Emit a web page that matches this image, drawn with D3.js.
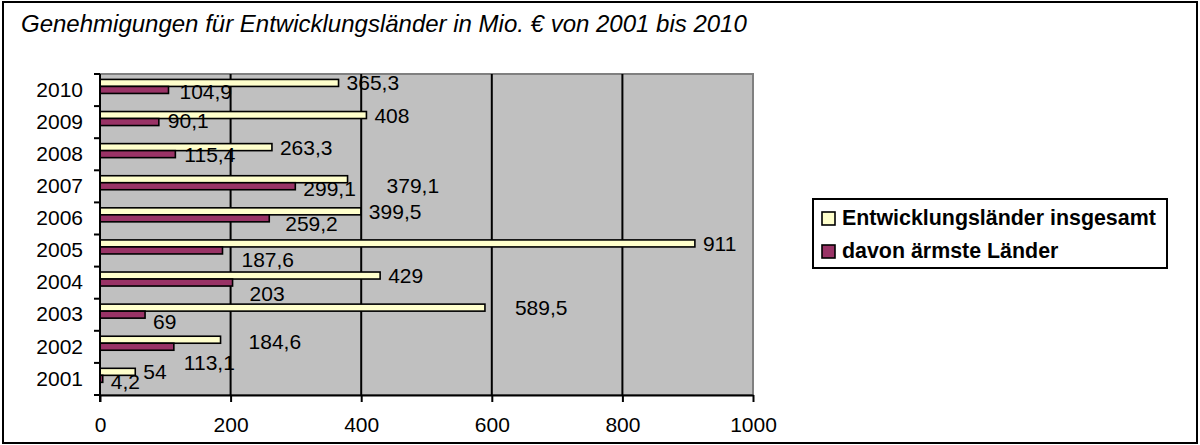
<!DOCTYPE html>
<html>
<head>
<meta charset="utf-8">
<script src="https://cdn.jsdelivr.net/npm/d3@7"></script>
<style>
  body { margin: 0; background: #fff; }
  svg text { font-family: "Liberation Sans", Arial, sans-serif; fill: #000; }
</style>
</head>
<body>
<div id="chart"></div>
<script>
// values
var years = [2001, 2002, 2003, 2004, 2005, 2006, 2007, 2008, 2009, 2010];
var totalValues = [54, 184.6, 589.5, 429, 911, 399.5, 379.1, 263.3, 408, 365.3];
var poorestValues = [4.2, 113.1, 69, 203, 187.6, 259.2, 299.1, 115.4, 90.1, 104.9];
var seriesNames = ["Entwicklungsländer insgesamt", "davon ärmste Länder"];
var xTicks = [0, 200, 400, 600, 800, 1000];
var title = "Genehmigungen für Entwicklungsländer in Mio. € von 2001 bis 2010";

// manual label shifts (like the moved data labels in the original)
var totalNudge = [[0, 0], [20, 2], [22, 0], [0, 0], [0, 0], [0, 0], [31, 6], [0, 0], [0, 0], [0, 0]];
var poorestNudge = [[0, 3], [2, 16], [0, 7], [9, 11], [11, 9], [8, 5], [0, 2], [1, 0], [1, -2], [3, 2]];

var colors = ["#FFFFCC", "#993366"];

var width = 1200, height = 445;
var plot = { left: 100, right: 753, top: 74, bottom: 395 };

var svg = d3
  .select("#chart")
  .append("svg")
  .attr("width", width)
  .attr("height", height);

// outer frame
svg
  .append("rect")
  .attr("x", 3)
  .attr("y", 2)
  .attr("width", 1194)
  .attr("height", 441)
  .attr("fill", "#fff")
  .attr("stroke", "#000")
  .attr("stroke-width", 2);

svg
  .append("text")
  .text(title)
  .attr("x", 21)
  .attr("y", 32)
  .style("font-style", "italic")
  .style("font-size", "24px");

// scales
var xScale = d3.scaleLinear().domain([0, 1000]).range([plot.left, plot.right]);

var yScale = d3
  .scaleBand()
  .domain(years.slice().reverse())
  .range([plot.top, plot.bottom]);

var subScale = d3
  .scaleBand()
  .domain([0, 1])
  .range([0, yScale.bandwidth()])
  .paddingOuter(1.29)
  .align(0.3);

// plot area
svg
  .append("rect")
  .attr("x", plot.left)
  .attr("y", plot.top)
  .attr("width", plot.right - plot.left)
  .attr("height", plot.bottom - plot.top)
  .attr("fill", "#C0C0C0")
  .attr("stroke", "#808080")
  .attr("stroke-width", 2);

// vertical gridlines
svg
  .append("g")
  .selectAll("line")
  .data(xTicks.slice(1, -1))
  .enter()
  .append("line")
  .attr("x1", function(d) { return xScale(d); })
  .attr("x2", function(d) { return xScale(d); })
  .attr("y1", plot.top)
  .attr("y2", plot.bottom)
  .attr("stroke", "#000")
  .attr("stroke-width", 2);

// bars
var rows = years.map(function(y, i) {
  return {
    year: y,
    values: [totalValues[i], poorestValues[i]],
    nudges: [totalNudge[i], poorestNudge[i]]
  };
});

var barData = [];
rows.forEach(function(r) {
  r.values.forEach(function(v, s) {
    barData.push({ year: r.year, s: s, value: v, nudge: r.nudges[s] });
  });
});

svg
  .append("g")
  .selectAll("rect")
  .data(barData)
  .enter()
  .append("rect")
  .attr("x", xScale(0))
  .attr("y", function(d) { return yScale(d.year) + subScale(d.s); })
  .attr("width", function(d) { return xScale(d.value) - xScale(0); })
  .attr("height", subScale.bandwidth())
  .attr("fill", function(d) { return colors[d.s]; })
  .attr("stroke", "#000")
  .attr("stroke-width", 1.6);

// data labels
svg
  .append("g")
  .selectAll("text")
  .data(barData)
  .enter()
  .append("text")
  .text(function(d) { return String(d.value).replace(".", ","); })
  .attr("x", function(d) { return xScale(d.value) + 8 + d.nudge[0]; })
  .attr("y", function(d) {
    return yScale(d.year) + subScale(d.s) + subScale.bandwidth() / 2 + d.nudge[1];
  })
  .attr("dy", "0.36em")
  .style("font-size", "21px");

// x axis
var xAxis = d3
  .axisBottom(xScale)
  .tickValues(xTicks)
  .tickFormat(d3.format("d"))
  .tickSize(7)
  .tickSizeOuter(0)
  .tickPadding(15);

var gx = svg
  .append("g")
  .attr("transform", "translate(0," + plot.bottom + ")")
  .call(xAxis);

// y axis: labels centred on bands, tick marks between bands
var yAxis = d3.axisLeft(yScale).tickSize(0).tickPadding(17);

var gy = svg
  .append("g")
  .attr("transform", "translate(" + plot.left + ",0)")
  .call(yAxis);

gy.select(".domain").remove();

var bounds = years.map(function(y) { return yScale(y); }).concat([plot.bottom]);
svg
  .append("g")
  .selectAll("line")
  .data(bounds)
  .enter()
  .append("line")
  .attr("x1", plot.left - 6)
  .attr("x2", plot.left)
  .attr("y1", function(d) { return d; })
  .attr("y2", function(d) { return d; })
  .attr("stroke", "#000")
  .attr("stroke-width", 2);

svg
  .append("line")
  .attr("x1", plot.left)
  .attr("x2", plot.left)
  .attr("y1", plot.top)
  .attr("y2", plot.bottom + 7)
  .attr("stroke", "#000")
  .attr("stroke-width", 2);

[gx, gy].forEach(function(g) {
  g.selectAll("text")
    .style("font-size", "21px")
    .style("font-family", "'Liberation Sans', Arial, sans-serif");
  g.selectAll("line, path").attr("stroke", "#000").attr("stroke-width", 2);
});

// legend
var legend = svg.append("g").attr("transform", "translate(813,199)");

legend
  .append("rect")
  .attr("width", 354)
  .attr("height", 69)
  .attr("fill", "#fff")
  .attr("stroke", "#000")
  .attr("stroke-width", 2);

var items = legend
  .selectAll("g.item")
  .data(seriesNames)
  .enter()
  .append("g")
  .attr("class", "item")
  .attr("transform", function(d, i) { return "translate(9," + (13 + i * 33) + ")"; });

items
  .append("rect")
  .attr("width", 13)
  .attr("height", 13)
  .attr("fill", function(d, i) { return colors[i]; })
  .attr("stroke", "#000")
  .attr("stroke-width", 1.6);

items
  .append("text")
  .text(function(d) { return d; })
  .attr("x", 20)
  .attr("y", 13)
  .style("font-size", "21.4px")
  .style("font-weight", "bold");
</script>
</body>
</html>
